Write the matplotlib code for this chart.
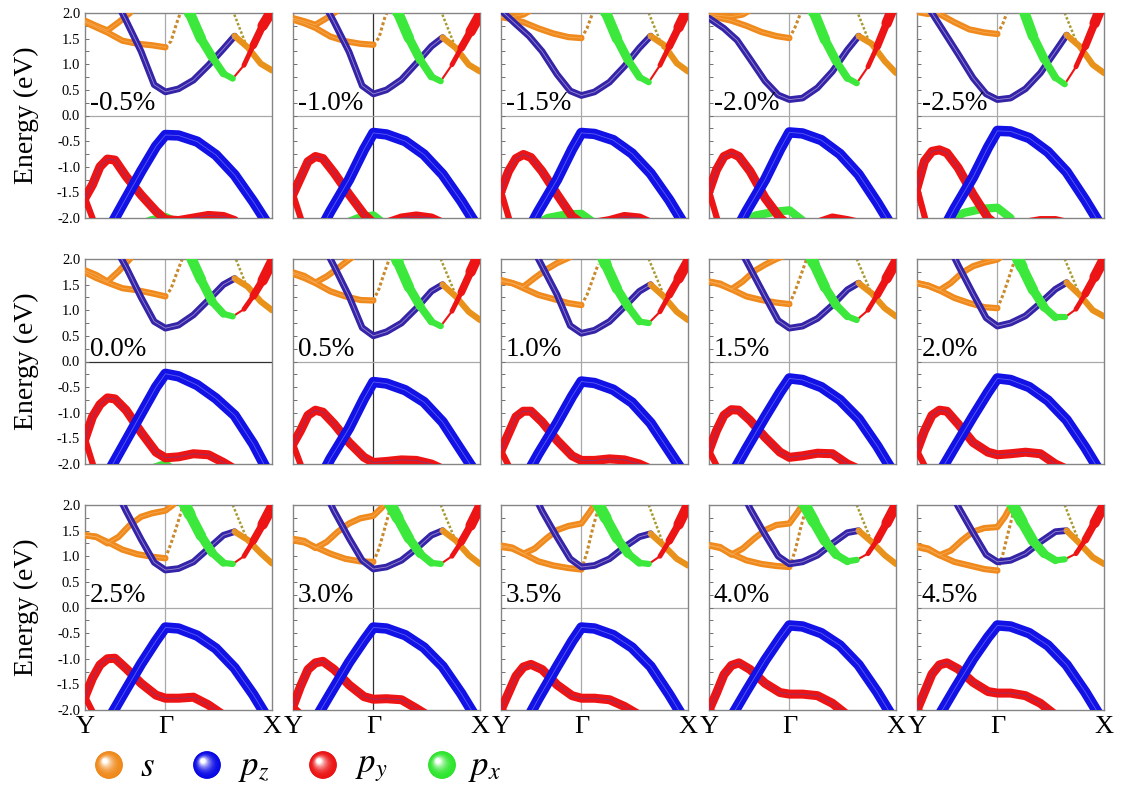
"""
Fat-band structures of the 15 strained cells, Y-Gamma-X path,
orbital weights s / pz / py / px drawn as coloured bands.
"""

import numpy as np
import matplotlib.pyplot as plt
from matplotlib.patches import Circle
from matplotlib.ticker import MultipleLocator

plt.rcParams['font.family'] = ['Liberation Serif', 'DejaVu Serif']
plt.rcParams['mathtext.fontset'] = 'stix'
plt.rcParams['axes.unicode_minus'] = False

# ============================================================
#  DATA (k-path scaled to 0..1, Gamma at 0.43)
# ============================================================

STRAINS = ['-0.5%', '-1.0%', '-1.5%', '-2.0%', '-2.5%',
           '0.0%', '0.5%', '1.0%', '1.5%', '2.0%',
           '2.5%', '3.0%', '3.5%', '4.0%', '4.5%']
K_LABELS = ['Y', 'Γ', 'X']
K_POS = [0.0, 0.43, 1.0]
E_TICKS = [-2.0, -1.5, -1.0, -0.5, 0.0, 0.5, 1.0, 1.5, 2.0]
LEGEND_LABELS = [r'$s$', r'$p_z$', r'$p_y$', r'$p_x$']

# valence pz band (blue)
VB_PZ_X = [0.10, 0.20, 0.30, 0.38, 0.43, 0.50, 0.60, 0.70, 0.80, 0.90, 1.0]
VB_PZ_E = [
    [-2.40, -1.74, -1.09, -0.60, -0.38, -0.39, -0.51, -0.77, -1.16, -1.68, -2.25],
    [-2.55, -1.87, -1.25, -0.66, -0.34, -0.37, -0.50, -0.76, -1.15, -1.67, -2.25],
    [-2.55, -1.87, -1.25, -0.66, -0.34, -0.36, -0.48, -0.74, -1.13, -1.65, -2.25],
    [-2.55, -1.87, -1.25, -0.66, -0.33, -0.35, -0.48, -0.75, -1.15, -1.70, -2.30],
    [-2.50, -1.82, -1.20, -0.62, -0.30, -0.31, -0.44, -0.71, -1.10, -1.65, -2.25],
    [-2.32, -1.67, -1.02, -0.50, -0.24, -0.29, -0.46, -0.72, -1.05, -1.61, -2.30],
    [-2.60, -1.90, -1.30, -0.72, -0.40, -0.43, -0.56, -0.79, -1.18, -1.74, -2.30],
    [-2.45, -1.80, -1.20, -0.68, -0.39, -0.42, -0.55, -0.80, -1.20, -1.75, -2.30],
    [-2.35, -1.70, -1.08, -0.60, -0.33, -0.36, -0.50, -0.75, -1.12, -1.65, -2.25],
    [-2.30, -1.68, -1.07, -0.60, -0.33, -0.36, -0.50, -0.76, -1.14, -1.68, -2.28],
    [-2.35, -1.72, -1.10, -0.65, -0.39, -0.41, -0.55, -0.80, -1.18, -1.70, -2.30],
    [-2.30, -1.68, -1.07, -0.64, -0.39, -0.41, -0.54, -0.78, -1.15, -1.68, -2.28],
    [-2.45, -1.78, -1.15, -0.66, -0.39, -0.41, -0.54, -0.78, -1.15, -1.70, -2.30],
    [-2.25, -1.63, -1.03, -0.60, -0.35, -0.37, -0.50, -0.74, -1.12, -1.65, -2.25],
    [-2.22, -1.60, -1.00, -0.58, -0.35, -0.37, -0.50, -0.74, -1.12, -1.65, -2.25],
]

# valence py band (red), plus its short branch dropping from Y
VB_PY_X = [0.0, 0.04, 0.08, 0.12, 0.16, 0.22, 0.30, 0.38, 0.43, 0.50, 0.58, 0.66, 0.74, 0.80]
VB_PY_E = [
    [-1.61, -1.35, -1.00, -0.85, -0.87, -1.19, -1.55, -1.87, -2.03, -2.05, -2.00, -1.95, -1.97, -2.05],
    [-1.54, -1.22, -0.90, -0.80, -0.84, -1.12, -1.54, -1.93, -2.10, -2.10, -2.00, -1.96, -2.00, -2.10],
    [-1.48, -1.09, -0.84, -0.76, -0.82, -1.09, -1.54, -1.97, -2.10, -2.10, -2.05, -1.97, -2.00, -2.10],
    [-1.48, -1.06, -0.80, -0.73, -0.80, -1.09, -1.61, -2.00, -2.15, -2.15, -2.10, -2.00, -2.05, -2.10],
    [-1.41, -0.89, -0.70, -0.67, -0.73, -1.02, -1.54, -2.00, -2.15, -2.15, -2.10, -2.05, -2.05, -2.10],
    [-1.51, -1.08, -0.84, -0.71, -0.73, -0.95, -1.38, -1.77, -1.88, -1.86, -1.80, -1.82, -1.97, -2.10],
    [-1.61, -1.35, -1.05, -0.95, -0.99, -1.22, -1.58, -1.87, -1.97, -1.95, -1.92, -1.93, -2.00, -2.10],
    [-1.74, -1.41, -1.08, -0.97, -0.97, -1.18, -1.54, -1.84, -1.93, -1.93, -1.90, -1.92, -2.00, -2.10],
    [-1.74, -1.35, -1.05, -0.94, -0.95, -1.15, -1.48, -1.77, -1.87, -1.84, -1.79, -1.80, -2.00, -2.10],
    [-1.74, -1.35, -1.05, -0.95, -0.97, -1.22, -1.58, -1.77, -1.82, -1.80, -1.77, -1.80, -2.00, -2.10],
    [-1.74, -1.38, -1.12, -1.00, -0.99, -1.19, -1.48, -1.71, -1.77, -1.77, -1.75, -1.90, -2.10, -2.20],
    [-1.93, -1.54, -1.21, -1.08, -1.05, -1.21, -1.51, -1.74, -1.79, -1.78, -1.80, -1.97, -2.15, -2.25],
    [-2.00, -1.67, -1.34, -1.16, -1.11, -1.21, -1.51, -1.72, -1.77, -1.77, -1.80, -1.93, -2.10, -2.20],
    [-2.00, -1.67, -1.31, -1.13, -1.08, -1.21, -1.48, -1.66, -1.69, -1.69, -1.72, -1.87, -2.10, -2.20],
    [-2.00, -1.65, -1.30, -1.12, -1.08, -1.20, -1.46, -1.64, -1.67, -1.67, -1.72, -1.87, -2.10, -2.20],
]
VB_PY_DROP_X = 0.05
VB_PY_DROP_E = -2.1

# deep valence px band near Gamma (green)
VB_PX_X = [0.15, 0.25, 0.35, 0.43, 0.50]
VB_PX_E = [
    [-2.30, -2.20, -2.05, -1.98, -2.10],
    [-2.30, -2.15, -2.00, -1.95, -2.15],
    [-2.20, -2.00, -1.93, -1.92, -2.10],
    [-2.15, -1.95, -1.88, -1.85, -2.05],
    [-2.10, -1.90, -1.82, -1.80, -2.00],
    [-2.40, -2.30, -2.10, -2.00, -2.20],
] + [[-2.5, -2.5, -2.5, -2.5, -2.5]] * 9

# conduction pz band (dark blue) and its orange tail towards X
CB_PZ_X = [0.0, 0.08, 0.15, 0.22, 0.30, 0.37, 0.43, 0.50, 0.58, 0.66, 0.74, 0.80]
CB_PZ_E = [
    [3.60, 3.00, 2.35, 1.85, 1.25, 0.60, 0.46, 0.52, 0.69, 0.98, 1.30, 1.55],
    [3.60, 3.00, 2.30, 1.82, 1.24, 0.58, 0.42, 0.50, 0.70, 1.02, 1.35, 1.52],
    [2.05, 1.78, 1.55, 1.25, 0.80, 0.48, 0.39, 0.46, 0.65, 0.96, 1.32, 1.55],
    [1.90, 1.70, 1.47, 1.10, 0.67, 0.40, 0.31, 0.34, 0.54, 0.86, 1.28, 1.55],
    [2.40, 2.00, 1.60, 1.20, 0.73, 0.42, 0.31, 0.34, 0.52, 0.83, 1.25, 1.57],
    [3.60, 3.00, 2.30, 1.84, 1.25, 0.78, 0.65, 0.71, 0.91, 1.20, 1.50, 1.62],
    [3.60, 3.00, 2.35, 1.86, 1.27, 0.66, 0.50, 0.58, 0.75, 1.04, 1.37, 1.50],
    [3.60, 3.00, 2.35, 1.86, 1.30, 0.70, 0.55, 0.61, 0.78, 1.07, 1.37, 1.50],
    [3.60, 3.00, 2.30, 1.82, 1.27, 0.80, 0.65, 0.69, 0.84, 1.10, 1.40, 1.53],
    [3.60, 3.00, 2.40, 1.88, 1.32, 0.85, 0.69, 0.75, 0.89, 1.14, 1.41, 1.54],
    [3.60, 3.00, 2.40, 1.88, 1.33, 0.88, 0.73, 0.76, 0.89, 1.15, 1.41, 1.48],
    [3.60, 3.00, 2.40, 1.88, 1.35, 0.92, 0.75, 0.79, 0.92, 1.15, 1.41, 1.50],
    [3.60, 3.00, 2.40, 1.88, 1.37, 0.95, 0.79, 0.82, 0.95, 1.18, 1.38, 1.44],
    [3.60, 3.00, 2.45, 1.93, 1.42, 1.00, 0.85, 0.89, 1.02, 1.25, 1.46, 1.50],
    [3.60, 3.00, 2.50, 1.97, 1.46, 1.03, 0.89, 0.92, 1.05, 1.28, 1.48, 1.50],
]
CB_TAIL_X = [0.80, 0.87, 0.94, 1.0]
CB_TAIL_E = [
    [1.55, 1.33, 1.01, 0.88], [1.52, 1.32, 0.99, 0.86], [1.55, 1.38, 1.02, 0.86],
    [1.55, 1.40, 1.06, 0.83], [1.57, 1.35, 0.99, 0.83],
    [1.62, 1.46, 1.17, 1.00], [1.50, 1.27, 0.97, 0.81], [1.50, 1.27, 0.97, 0.81],
    [1.53, 1.33, 1.04, 0.88], [1.54, 1.30, 1.00, 0.88],
    [1.48, 1.32, 1.06, 0.86], [1.50, 1.31, 1.02, 0.85], [1.44, 1.21, 0.95, 0.82],
    [1.50, 1.28, 1.02, 0.85], [1.50, 1.25, 0.98, 0.85],
]

# conduction px band (green) and the py branch rising to X (red)
CB_PX_X = [0.50, 0.56, 0.62, 0.68, 0.74, 0.79]
CB_PX_E = [
    [2.70, 2.00, 1.50, 1.14, 0.82, 0.72], [2.70, 2.02, 1.51, 1.09, 0.76, 0.67],
    [2.70, 2.02, 1.50, 1.08, 0.75, 0.65], [2.70, 2.02, 1.48, 1.06, 0.73, 0.63],
    [2.80, 2.15, 1.55, 1.10, 0.74, 0.61],
    [2.60, 2.08, 1.60, 1.17, 0.93, 0.88], [2.50, 1.95, 1.45, 1.08, 0.78, 0.69],
    [2.40, 1.90, 1.42, 1.07, 0.78, 0.75], [2.40, 1.92, 1.45, 1.10, 0.88, 0.81],
    [2.30, 1.85, 1.40, 1.06, 0.86, 0.86],
    [2.25, 1.82, 1.40, 1.07, 0.87, 0.85], [2.15, 1.75, 1.35, 1.05, 0.87, 0.85],
    [2.15, 1.75, 1.35, 1.05, 0.87, 0.85], [2.08, 1.68, 1.30, 1.03, 0.90, 0.93],
    [2.08, 1.68, 1.30, 1.05, 0.92, 0.94],
]
CB_PY_X = [0.79, 0.85, 0.90, 0.95, 1.0]
CB_PY_E = [
    [0.72, 0.98, 1.37, 1.75, 2.05], [0.67, 0.99, 1.32, 1.64, 1.97],
    [0.65, 0.98, 1.35, 1.72, 2.10], [0.63, 0.95, 1.35, 1.80, 2.25],
    [0.61, 0.95, 1.35, 1.80, 2.25],
    [0.88, 1.02, 1.28, 1.58, 1.95], [0.69, 0.98, 1.35, 1.75, 2.15],
    [0.75, 0.97, 1.30, 1.62, 1.95], [0.81, 1.00, 1.30, 1.62, 1.95],
    [0.86, 1.02, 1.32, 1.65, 2.00],
    [0.85, 1.00, 1.30, 1.62, 1.97], [0.85, 1.00, 1.28, 1.60, 1.97],
    [0.85, 1.00, 1.30, 1.62, 2.00], [0.93, 1.05, 1.32, 1.65, 2.00],
    [0.94, 1.05, 1.32, 1.65, 2.00],
]

# s bands (orange): lower one ends at Gamma, upper one leaves through the top
S_LOW_X = [0.0, 0.06, 0.12, 0.20, 0.28, 0.36, 0.43]
S_LOW_E = [
    [1.82, 1.72, 1.62, 1.46, 1.40, 1.37, 1.33], [1.87, 1.80, 1.71, 1.54, 1.45, 1.40, 1.38],
    [1.92, 1.88, 1.82, 1.70, 1.60, 1.53, 1.51], [1.95, 1.90, 1.85, 1.75, 1.63, 1.55, 1.51],
    [2.15, 2.05, 1.98, 1.82, 1.68, 1.62, 1.59],
    [1.74, 1.63, 1.54, 1.43, 1.39, 1.33, 1.27], [1.71, 1.63, 1.53, 1.37, 1.27, 1.20, 1.19],
    [1.56, 1.53, 1.43, 1.30, 1.22, 1.14, 1.10], [1.56, 1.52, 1.41, 1.27, 1.20, 1.15, 1.12],
    [1.53, 1.48, 1.39, 1.24, 1.14, 1.06, 1.04],
    [1.41, 1.38, 1.28, 1.13, 1.04, 0.99, 0.96], [1.31, 1.27, 1.18, 1.05, 0.95, 0.90, 0.89],
    [1.18, 1.15, 1.05, 0.90, 0.82, 0.77, 0.74], [1.21, 1.16, 1.05, 0.92, 0.85, 0.81, 0.79],
    [1.18, 1.13, 1.02, 0.89, 0.82, 0.75, 0.72],
]
S_UP_X = [0.0, 0.06, 0.12, 0.18, 0.24, 0.30, 0.36, 0.43, 0.47, 0.50]
S_UP_E = [
    [1.85, 1.75, 1.66, 1.82, 2.00, 2.30, 2.60, 2.90, 3.10, 3.20],
    [1.90, 1.84, 1.77, 1.90, 2.05, 2.25, 2.50, 2.80, 3.00, 3.10],
    [1.96, 1.93, 1.97, 2.10, 2.30, 2.50, 2.70, 2.90, 3.00, 3.10],
    [1.97, 1.95, 1.93, 1.97, 2.10, 2.30, 2.50, 2.70, 2.90, 3.00],
    [2.02, 1.98, 2.05, 2.20, 2.40, 2.60, 2.80, 3.00, 3.10, 3.20],
    [1.78, 1.69, 1.56, 1.76, 2.00, 2.30, 2.60, 2.90, 3.10, 3.20],
    [1.74, 1.67, 1.54, 1.66, 1.82, 1.99, 2.15, 2.40, 2.60, 2.70],
    [1.59, 1.53, 1.46, 1.63, 1.79, 1.92, 2.02, 2.15, 2.30, 2.40],
    [1.56, 1.50, 1.41, 1.56, 1.76, 1.89, 2.00, 2.10, 2.20, 2.30],
    [1.53, 1.48, 1.39, 1.53, 1.73, 1.86, 1.93, 1.99, 2.10, 2.20],
    [1.41, 1.38, 1.25, 1.38, 1.61, 1.77, 1.84, 1.89, 2.00, 2.15],
    [1.34, 1.30, 1.16, 1.28, 1.48, 1.64, 1.74, 1.79, 1.93, 2.05],
    [1.21, 1.17, 1.05, 1.15, 1.34, 1.51, 1.59, 1.64, 1.84, 2.00],
    [1.22, 1.18, 1.03, 1.15, 1.34, 1.51, 1.61, 1.64, 1.84, 2.00],
    [1.20, 1.15, 1.02, 1.11, 1.31, 1.48, 1.55, 1.57, 1.77, 1.97],
]
# weak (dotted) bands: leaving Gamma upwards, and dropping in near X
S_DOT_X = [0.43, 0.46, 0.49, 0.52]
S_DOT_E = [
    [1.33, 1.45, 1.80, 2.10], [1.38, 1.52, 1.90, 2.15], [1.51, 1.70, 2.00, 2.30],
    [1.51, 1.72, 2.00, 2.30], [1.59, 1.80, 2.10, 2.40],
    [1.27, 1.42, 1.72, 2.00], [1.19, 1.42, 1.75, 2.05], [1.10, 1.30, 1.60, 1.90],
    [1.12, 1.37, 1.67, 1.98], [1.04, 1.30, 1.62, 1.95],
    [0.96, 1.25, 1.58, 1.94], [0.89, 1.15, 1.54, 1.93], [0.74, 1.08, 1.54, 1.93],
    [0.79, 1.10, 1.55, 1.95], [0.72, 1.05, 1.50, 1.92],
]
TOP_DOT_X = [0.79, 0.87]
TOP_DOT_E = [
    [2.05, 1.30], [2.05, 1.32], [2.00, 1.28], [2.05, 1.32], [2.00, 1.28],
    [2.15, 1.42], [2.00, 1.30], [2.00, 1.30], [2.00, 1.32], [2.00, 1.30],
    [2.00, 1.30], [2.00, 1.30], [2.00, 1.22], [2.00, 1.28], [2.00, 1.25],
]

# ============================================================
#  STYLE / LAYOUT
# ============================================================

W, H = 1126, 794
COL_LEFT = [85, 293, 501, 709, 917]
ROW_TOP = [13, 259, 505]
PW, PH = 187, 205

C_S = '#f08a1c'
C_PZ = '#1212e6'
C_PZ_CB = '#3324a8'
C_PY = '#ec1414'
C_PX = '#3ce83c'
C_DOT = '#c98a2e'
LEGEND_COLORS = [C_S, '#0a0ae6', '#ec1414', '#2ee62e']


def band(ax, x, e, color, lw, inner=None, zorder=2):
    ax.plot(x, e, color=color, lw=lw, solid_capstyle='round',
            solid_joinstyle='round', zorder=zorder)
    if inner is not None:
        ax.plot(x, e, color=inner, lw=0.6, alpha=0.8, zorder=zorder + 0.1)


def growing_band(ax, x, e, color, w0, w1, zorder=2):
    widths = np.linspace(w0, w1, len(x) - 1)
    for j, w in enumerate(widths):
        ax.plot(x[j:j + 2], e[j:j + 2], color=color, lw=w,
                solid_capstyle='round', zorder=zorder)


fig = plt.figure(figsize=(W / 100, H / 100), dpi=100)

for i, label in enumerate(STRAINS):
    r, c = divmod(i, 5)
    ax = fig.add_axes([COL_LEFT[c] / W, 1 - (ROW_TOP[r] + PH) / H, PW / W, PH / H])

    g_col = '#303030' if c == 1 else '#a8a8a8'
    z_col = '#303030' if i == 5 else '#a8a8a8'
    ax.axvline(K_POS[1], color=g_col, lw=0.9, zorder=1)
    ax.axhline(0.0, color=z_col, lw=0.9, zorder=1)

    # valence
    band(ax, VB_PX_X, VB_PX_E[i], C_PX, 6, zorder=2)
    band(ax, [VB_PY_X[0], VB_PY_DROP_X], [VB_PY_E[i][0], VB_PY_DROP_E],
         C_PY, 4.5, zorder=3)
    band(ax, VB_PY_X, VB_PY_E[i], C_PY, 6.5, inner='#7a3a8a', zorder=3)
    band(ax, VB_PZ_X, VB_PZ_E[i], C_PZ, 7.5, inner='#6f6ff6', zorder=4)

    # conduction
    ax.plot(S_DOT_X, S_DOT_E[i], color=C_DOT, lw=2.2, ls=(0, (1, 0.8)), zorder=2)
    ax.plot(TOP_DOT_X, TOP_DOT_E[i], color='#a89a30', lw=1.8, ls=(0, (1, 0.8)), zorder=2)
    band(ax, S_UP_X, S_UP_E[i], C_S, 4.5, inner='#f7b060', zorder=3)
    band(ax, S_LOW_X, S_LOW_E[i], C_S, 4.5, inner='#f7b060', zorder=3)
    band(ax, CB_PZ_X, CB_PZ_E[i], C_PZ_CB, 4.8, inner='#b8a0dc', zorder=4)
    band(ax, CB_TAIL_X, CB_TAIL_E[i], '#e8921c', 4.5, zorder=4)
    growing_band(ax, CB_PY_X, CB_PY_E[i], C_PY, 1.5, 7.5, zorder=4)
    growing_band(ax, CB_PX_X, CB_PX_E[i], C_PX, 8.5, 4.5, zorder=5)

    ax.text(0.025, 0.1, label, fontsize=19.5, va='baseline', ha='left', zorder=6)

    ax.set_xlim(0, 1)
    ax.set_ylim(-2, 2)
    ax.yaxis.set_minor_locator(MultipleLocator(0.25))
    ax.set_yticks(E_TICKS)
    ax.tick_params(axis='y', which='both', direction='in', length=3,
                   width=0.7, color='#707070', right=False)
    for s in ax.spines.values():
        s.set_color('#858585')
        s.set_linewidth(1.0)

    if c == 0:
        ax.set_yticklabels([f'{v:.1f}' for v in E_TICKS], fontsize=10.5)
        ax.set_ylabel('Energy (eV)', fontsize=20)
        ax.yaxis.set_label_coords(-0.245, 0.5)
    else:
        ax.set_yticklabels([])

    ax.set_xticks(K_POS)
    ax.tick_params(axis='x', length=0, pad=4)
    if r == 2:
        ax.set_xticklabels(K_LABELS, fontsize=19)
    else:
        ax.set_xticklabels([])

# ------------------------------------------------------------
#  legend: shaded balls + italic orbital names
# ------------------------------------------------------------
leg = fig.add_axes([0, 0, 1, 1], zorder=10)
leg.set_xlim(0, W)
leg.set_ylim(H, 0)
leg.axis('off')
leg.patch.set_alpha(0)

BALL_X = [109, 207, 323, 442]
TEXT_X = [140, 238, 355, 468]
BALL_Y, BALL_R = 765, 13
for bx, tx, col, lab in zip(BALL_X, TEXT_X, LEGEND_COLORS, LEGEND_LABELS):
    base = np.array(plt.matplotlib.colors.to_rgb(col))
    leg.add_patch(Circle((bx, BALL_Y), BALL_R, color=base * 0.85))
    for t in np.linspace(0, 1, 12):
        rad = BALL_R * (1 - 0.85 * t)
        cx = bx - 4 * t
        cy = BALL_Y - 4 * t
        shade = base + (1 - base) * t ** 2.2
        leg.add_patch(Circle((cx, cy), rad, color=np.clip(shade, 0, 1)))
    leg.text(tx, BALL_Y + 3, lab, fontsize=25, va='center', ha='left')

fig.savefig('out.png', dpi=100)
